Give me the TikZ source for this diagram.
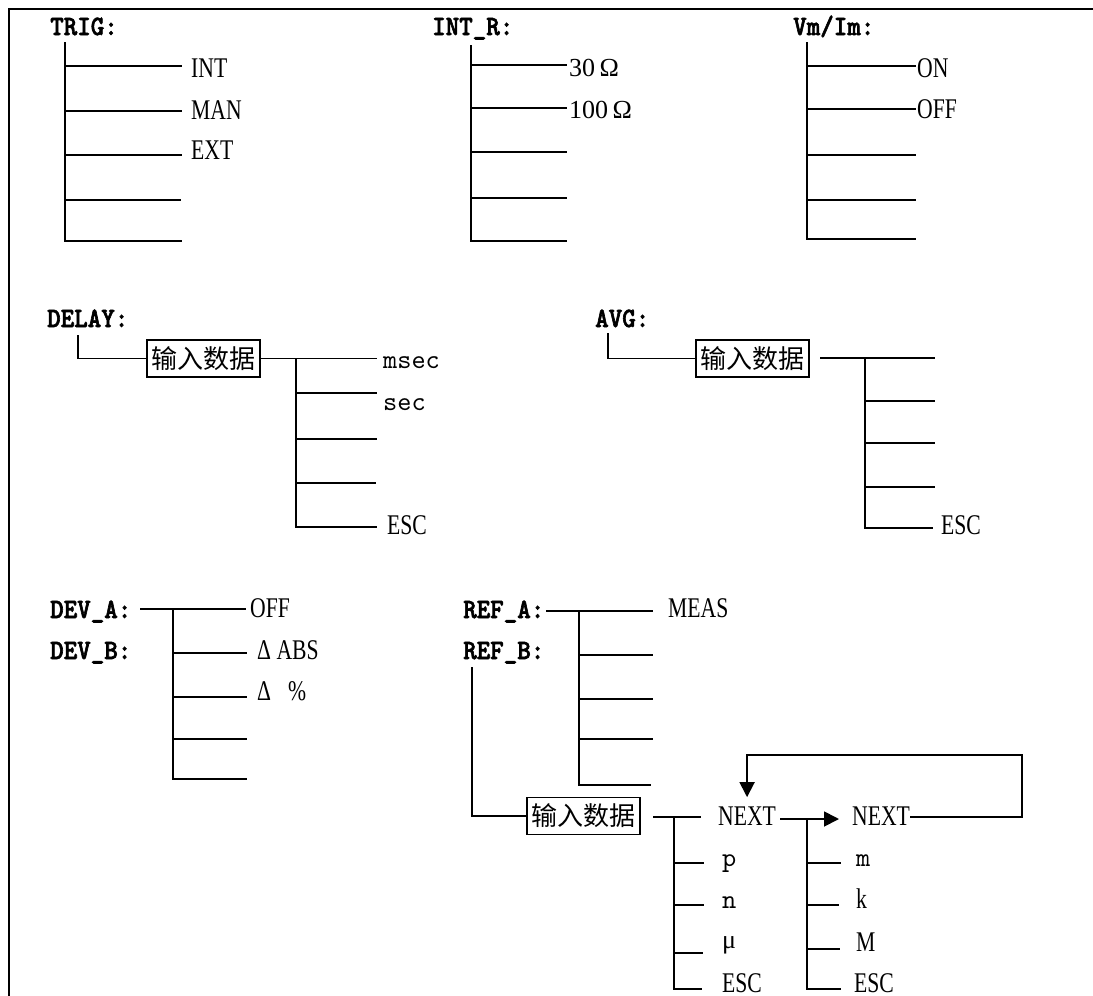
\documentclass[tikz,border=0pt]{standalone}
\usepackage{fontspec}
\usetikzlibrary{arrows.meta}
\newfontfamily\hdrf[FakeStretch=0.92,FakeBold=2.2]{lmmonolt10-bold.otf}
\newfontfamily\monof{lmmono10-regular.otf}
\newfontfamily\labf[FakeStretch=0.76]{Liberation Serif}
\newfontfamily\rmf{Liberation Serif}
\newfontfamily\cjkf{Noto Sans CJK SC}
\begin{document}
\begin{tikzpicture}[x=1pt,y=-1pt,
  ln/.style={line width=1.8pt},
  hdr/.style={anchor=base west,inner sep=0pt,font=\hdrf\fontsize{28}{30}\selectfont},
  lab/.style={anchor=base west,inner sep=0pt,font=\labf\fontsize{28.5}{30}\selectfont},
  mono/.style={anchor=base west,inner sep=0pt,font=\monof\fontsize{27}{30}\selectfont},
  ohm/.style={anchor=base west,inner sep=0pt,font=\rmf\fontsize{26}{30}\selectfont},
  cbox/.style={draw,line width=1.8pt,inner sep=0pt,minimum width=113pt,minimum height=37pt,font=\cjkf\fontsize{26}{30}\selectfont},
  tip/.style={-{Triangle[length=15pt,width=15pt]}}]
\useasboundingbox (0,0) rectangle (1093,996);
\draw[ln] (9,996) -- (9,9) -- (1093,9);

% ---------- TRIG ----------
\node[hdr] (trig) at (50,35) {TRIG:};
\coordinate (t0) at (65,42);
\coordinate (t1) at (182,66);
\coordinate (t2) at (182,111);
\coordinate (t3) at (182,155);
\coordinate (t4) at (181,200);
\coordinate (t5) at (182,241);
\draw[ln] (t0) |- (t5);
\foreach \i in {1,2,3,4} \draw[ln] (t0 |- t\i) -- (t\i);
\node[lab] (tint) at (191,77) {INT};
\node[lab] (tman) at (191,119) {MAN};
\node[lab] (text) at (191,159) {EXT};

% ---------- INT_R ----------
\node[hdr] (intr) at (432,35) {INT\_R:};
\coordinate (i0) at (471,45);
\coordinate (i1) at (567,65);
\coordinate (i2) at (567,108);
\coordinate (i3) at (567,152);
\coordinate (i4) at (567,198);
\coordinate (i5) at (567,241);
\draw[ln] (i0) |- (i5);
\foreach \i in {1,2,3,4} \draw[ln] (i0 |- i\i) -- (i\i);
\node[ohm] (r30) at (569,76) {30\,Ω};
\node[ohm] (r100) at (569,118) {100\,Ω};

% ---------- Vm/Im ----------
\node[hdr] (vmim) at (793,35) {Vm/Im:};
\coordinate (v0) at (807,42);
\coordinate (v1) at (916,66);
\coordinate (v2) at (916,109);
\coordinate (v3) at (916,155);
\coordinate (v4) at (916,200);
\coordinate (v5) at (916,239);
\draw[ln] (v0) |- (v5);
\foreach \i in {1,2,3,4} \draw[ln] (v0 |- v\i) -- (v\i);
\node[lab] (von) at (917,77) {ON};
\node[lab] (voff) at (917,118) {OFF};

% ---------- DELAY ----------
\node[hdr] (delay) at (47,327) {DELAY:};
\coordinate (dtop) at (78,335);
\node[cbox] (dbox) at (203.5,358.5) {输入数据};
\draw[ln] (dtop) |- (dbox.west);
\coordinate (dsp) at (296,358.5);
\coordinate (d1) at (377,358.5);
\coordinate (d2) at (377,393);
\coordinate (d3) at (377,439);
\coordinate (d4) at (376,483);
\coordinate (d5) at (377,527);
\draw[ln] (dbox.east) -- (d1);
\draw[ln] (dsp) |- (d5);
\foreach \i in {2,3,4} \draw[ln] (dsp |- d\i) -- (d\i);
\node[mono] (dmsec) at (383,368) {msec};
\node[mono] (dsec) at (383,410) {sec};
\node[lab] (desc) at (387,534) {ESC};

% ---------- AVG ----------
\node[hdr] (avg) at (595,327) {AVG:};
\coordinate (atop) at (608,333);
\node[cbox] (abox) at (752.5,358.5) {输入数据};
\draw[ln] (atop) |- (abox.west);
\coordinate (a0) at (820,358);
\coordinate (asp) at (865,358);
\coordinate (a1) at (935,358);
\coordinate (a2) at (935,401);
\coordinate (a3) at (935,443);
\coordinate (a4) at (935,487);
\coordinate (a5) at (933,528);
\draw[ln] (a0) -- (a1);
\draw[ln] (asp) |- (a5);
\foreach \i in {2,3,4} \draw[ln] (asp |- a\i) -- (a\i);
\node[lab] (aesc) at (941,534) {ESC};

% ---------- DEV ----------
\node[hdr] (deva) at (50,618) {DEV\_A:};
\node[hdr] (devb) at (50,659) {DEV\_B:};
\coordinate (e0) at (140,609);
\coordinate (esp) at (173,609);
\coordinate (e1) at (246,609);
\coordinate (e2) at (247,653);
\coordinate (e3) at (247,697);
\coordinate (e4) at (247,739);
\coordinate (e5) at (247,779);
\draw[ln] (e0) -- (e1);
\draw[ln] (esp) |- (e5);
\foreach \i in {2,3,4} \draw[ln] (esp |- e\i) -- (e\i);
\node[lab] (eoff) at (250,617) {OFF};
\node[lab] (eabs) at (257,659) {Δ ABS};
\node[lab] (epct) at (257,700) {Δ\hspace{17pt}\%};

% ---------- REF ----------
\node[hdr] (refa) at (463,618) {REF\_A:};
\node[hdr] (refb) at (463,659) {REF\_B:};
\coordinate (f0) at (546,611);
\coordinate (fsp) at (579,611);
\coordinate (f1) at (653,611);
\coordinate (f2) at (653,655);
\coordinate (f3) at (653,699);
\coordinate (f4) at (653,739);
\coordinate (f5) at (651,785);
\draw[ln] (f0) -- (f1);
\draw[ln] (fsp) |- (f5);
\foreach \i in {2,3,4} \draw[ln] (fsp |- f\i) -- (f\i);
\node[lab] (fmeas) at (668,617) {MEAS};

\coordinate (rtop) at (472,667);
\node[cbox] (rbox) at (583.5,816) {输入数据};
\draw[ln] (rtop) |- (rbox.west);

% first unit column
\coordinate (n0) at (653,817);
\coordinate (nsp) at (674,817);
\coordinate (n1) at (701,817);
\coordinate (n2) at (704,863);
\coordinate (n3) at (704,905);
\coordinate (n4) at (703,953);
\coordinate (n5) at (702,989);
\draw[ln] (n0) -- (n1);
\draw[ln] (nsp) |- (n5);
\foreach \i in {2,3,4} \draw[ln] (nsp |- n\i) -- (n\i);
\node[lab] (nx1) at (718,825) {NEXT};
\node[mono] (np) at (722,866) {p};
\node[mono] (nn) at (722,908) {n};
\node[ohm] (nmu) at (722,948) {μ};
\node[lab] (nesc) at (722,992) {ESC};

% second unit column
\coordinate (m0) at (780,819);
\coordinate (msp) at (807,819);
\coordinate (mbot) at (807,990);
\coordinate (m1) at (839,819);
\coordinate (m2) at (841,863);
\coordinate (m3) at (839,905);
\coordinate (m4) at (840,949);
\coordinate (m5) at (841,989);
\draw[ln,tip] (m0) -- (m1);
\draw[ln] (msp) -- (mbot);
\foreach \i in {2,3,4,5} \draw[ln] (msp |- m\i) -- (m\i);
\node[lab] (nx2) at (852,825) {NEXT};
\node[mono] (mm) at (856,866) {m};
\node[lab] (mk) at (856,908) {k};
\node[lab] (mM) at (856,951) {M};
\node[lab] (mesc) at (854,992) {ESC};

% loop back
\coordinate (lp1) at (1022,817);
\coordinate (lp2) at (1022,755);
\coordinate (lp3) at (nx1.north |- lp2);
\draw[ln,tip,shorten >=9pt] (nx2.east |- lp1) -- (lp1) -- (lp2) -- (lp3) -- (nx1.north);
\end{tikzpicture}
\end{document}
